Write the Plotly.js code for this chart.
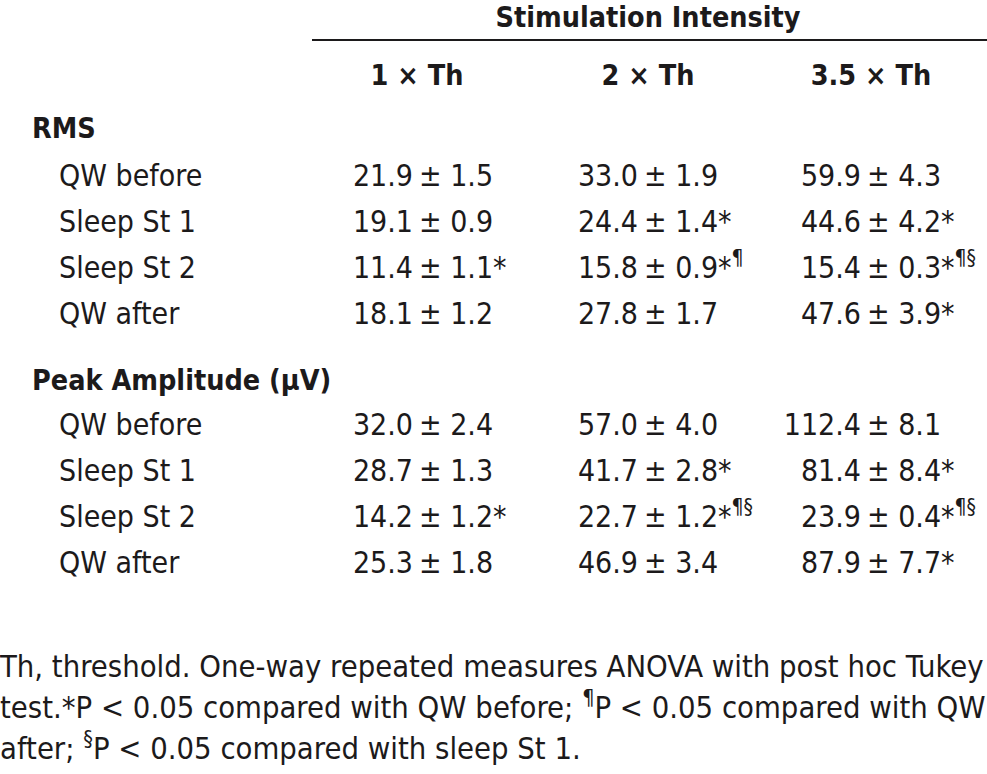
<!DOCTYPE html>
<html>
<head>
<meta charset="utf-8">
<script src="https://cdn.plot.ly/plotly-3.0.1.min.js"></script>
<style>html,body{margin:0;padding:0;background:#fff;}#chart{width:987px;height:774px;}</style>
</head>
<body>
<div id="chart"></div>
<script>
// ---- data ----
const spanner = "Stimulation Intensity";
const intensities = ["1 × Th", "2 × Th", "3.5 × Th"];
const groups = ["RMS", "Peak Amplitude (μV)"];
const conditions = ["QW before", "Sleep St 1", "Sleep St 2", "QW after"];
const rmsMean = [[21.9, 33.0, 59.9], [19.1, 24.4, 44.6], [11.4, 15.8, 15.4], [18.1, 27.8, 47.6]];
const rmsSE   = [[1.5, 1.9, 4.3], [0.9, 1.4, 4.2], [1.1, 0.9, 0.3], [1.2, 1.7, 3.9]];
const rmsSig  = [["", "", ""], ["", "*", "*"], ["*", "*¶", "*¶§"], ["", "", "*"]];
const peakMean = [[32.0, 57.0, 112.4], [28.7, 41.7, 81.4], [14.2, 22.7, 23.9], [25.3, 46.9, 87.9]];
const peakSE   = [[2.4, 4.0, 8.1], [1.3, 2.8, 8.4], [1.2, 1.2, 0.4], [1.8, 3.4, 7.7]];
const peakSig  = [["", "", ""], ["", "*", "*"], ["*", "*¶§", "*¶§"], ["", "", "*"]];
const footnote = [
  "Th, threshold. One-way repeated measures ANOVA with post hoc Tukey",
  "test.*P < 0.05 compared with QW before; <sup>¶</sup>P < 0.05 compared with QW",
  "after; <sup>§</sup>P < 0.05 compared with sleep St 1."
];

// ---- layout constants ----
const FONT = "'Liberation Sans Narrow', 'Arial Narrow', 'DejaVu Sans Condensed', sans-serif";
const FS = 30;
const FSB = 28.5;
const COLOR = "#1c1a1b";
const pmX = [421, 646, 869];      // x of the ± sign per column
const headX = [417, 648, 871];
const groupY = [131, 383];
const rowY0 = [178, 427];
const rowStep = 46;
const groupX = 32, rowX = 59;
const footY = [669, 710, 751];

// fit the footnote's first line to the full width
function measure(txt, size) {
  const ctx = document.createElement("canvas").getContext("2d");
  ctx.font = size + "px 'DejaVu Sans Condensed'";
  return ctx.measureText(txt).width;
}
const footW = measure(footnote[0], 100);
const FSF = Math.min(34, 100 * 984 / footW);

function sigMarkup(s) {
  if (!s) return "";
  const star = s.startsWith("*") ? "*" : "";
  const rest = s.replace("*", "");
  return star + (rest ? "<sup>" + rest + "</sup>" : "");
}

const traces = [];
const baseText = {type: "scatter", mode: "text", hoverinfo: "skip", showlegend: false, cliponaxis: false};

traces.push(Object.assign({}, baseText, {x: [648], y: [20], text: ["<b>" + spanner + "</b>"],
  textposition: "middle center", textfont: {family: FONT, size: FSB, color: COLOR}}));
traces.push({type: "scatter", mode: "lines", x: [312, 987], y: [40, 40], hoverinfo: "skip", showlegend: false,
  line: {color: COLOR, width: 2.2}, cliponaxis: false});
traces.push(Object.assign({}, baseText, {x: headX, y: headX.map(() => 78),
  text: intensities.map(t => "<b>" + t + "</b>"), textposition: "middle center",
  textfont: {family: FONT, size: FSB, color: COLOR}}));

const blocks = [[rmsMean, rmsSE, rmsSig], [peakMean, peakSE, peakSig]];
blocks.forEach((blk, g) => {
  const [M, S, G] = blk;
  traces.push(Object.assign({}, baseText, {x: [groupX], y: [groupY[g]], text: ["<b>" + groups[g] + "</b>"],
    textposition: "middle right", textfont: {family: FONT, size: FSB, color: COLOR}}));
  const ys = conditions.map((c, i) => rowY0[g] + i * rowStep);
  traces.push(Object.assign({}, baseText, {x: ys.map(() => rowX), y: ys, text: conditions,
    textposition: "middle right", textfont: {family: FONT, size: FS, color: COLOR}}));
  for (let c = 0; c < 3; c++) {
    traces.push(Object.assign({}, baseText, {x: ys.map(() => pmX[c] - 8), y: ys,
      text: M.map(r => r[c].toFixed(1)), textposition: "middle left",
      textfont: {family: FONT, size: FS, color: COLOR}}));
    traces.push(Object.assign({}, baseText, {x: ys.map(() => pmX[c] - 2), y: ys,
      text: S.map((r, i) => "± " + r[c].toFixed(1) + sigMarkup(G[i][c])), textposition: "middle right",
      textfont: {family: FONT, size: FS, color: COLOR}}));
  }
});

traces.push(Object.assign({}, baseText, {x: footY.map(() => 0), y: footY, text: footnote,
  textposition: "middle right", textfont: {family: FONT, size: FSF, color: COLOR}}));

const layout = {
  width: 987, height: 774,
  margin: {l: 0, r: 0, t: 0, b: 0},
  paper_bgcolor: "#ffffff", plot_bgcolor: "#ffffff",
  xaxis: {range: [0, 987], visible: false, fixedrange: true},
  yaxis: {range: [774, 0], visible: false, fixedrange: true},
  showlegend: false
};
Plotly.newPlot("chart", traces, layout, {displayModeBar: false, staticPlot: true});
</script>
</body>
</html>
